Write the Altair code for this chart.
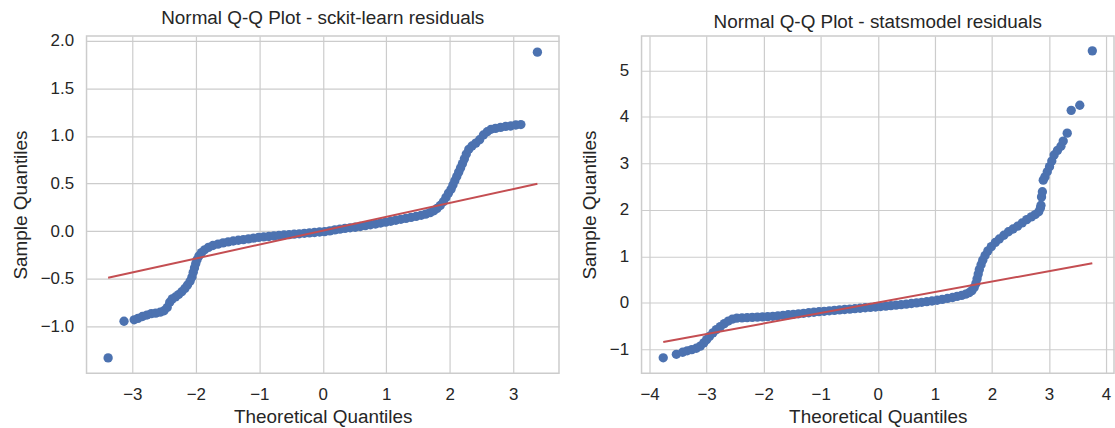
import altair as alt
import pandas as pd

BLUE = "#4C72B0"
RED = "#C44E52"
INK = "#262626"
GRID = "#cccccc"
FONT = "Liberation Sans"

# --- scikit-learn residuals: theoretical vs sample quantiles ---
sk_theoretical = [
    -3.38, -3.13, -2.97, -2.91, -2.84, -2.77, -2.70, -2.63, -2.56, -2.50,
    -2.45, -2.41, -2.37, -2.32, -2.27, -2.22, -2.17, -2.13, -2.09, -2.06,
    -2.04, -2.02, -2.00, -1.98, -1.95, -1.91, -1.86, -1.80, -1.73, -1.65,
    -1.57, -1.49, -1.41, -1.33, -1.25, -1.17, -1.09, -1.01, -0.93, -0.85,
    -0.77, -0.69, -0.61, -0.53, -0.45, -0.37, -0.29, -0.21, -0.13, -0.05,
    0.03, 0.11, 0.19, 0.27, 0.35, 0.43, 0.51, 0.59, 0.67, 0.75,
    0.83, 0.91, 0.99, 1.07, 1.15, 1.23, 1.31, 1.39, 1.47, 1.55,
    1.62, 1.69, 1.75, 1.80, 1.85, 1.90, 1.94, 1.98, 2.02, 2.05,
    2.08, 2.11, 2.14, 2.17, 2.20, 2.23, 2.26, 2.30, 2.35, 2.41,
    2.47, 2.53, 2.59, 2.65, 2.72, 2.80, 2.88, 2.96, 3.04, 3.12,
    3.38,
]
sk_sample = [
    -1.33, -0.945, -0.93, -0.915, -0.895, -0.88, -0.865, -0.86, -0.85, -0.835,
    -0.80, -0.745, -0.71, -0.69, -0.665, -0.635, -0.60, -0.565, -0.525, -0.48,
    -0.43, -0.385, -0.34, -0.30, -0.26, -0.225, -0.195, -0.17, -0.15, -0.135,
    -0.122, -0.112, -0.103, -0.095, -0.088, -0.080, -0.072, -0.065, -0.060, -0.055,
    -0.050, -0.045, -0.040, -0.036, -0.031, -0.027, -0.022, -0.018, -0.013, -0.008,
    -0.004, 0.004, 0.014, 0.022, 0.030, 0.036, 0.042, 0.050, 0.058, 0.068,
    0.076, 0.086, 0.096, 0.105, 0.115, 0.125, 0.135, 0.145, 0.155, 0.167,
    0.180, 0.195, 0.215, 0.24, 0.27, 0.31, 0.355, 0.40, 0.44, 0.485,
    0.53, 0.575, 0.62, 0.665, 0.71, 0.76, 0.81, 0.86, 0.895, 0.925,
    0.96, 1.01, 1.045, 1.07, 1.08, 1.09, 1.10, 1.105, 1.115, 1.12,
    1.88,
]
sk_fit_x = [-3.38, 3.38]
sk_fit_y = [-0.488, 0.498]

# --- statsmodels residuals: theoretical vs sample quantiles ---
sm_theoretical = [
    -3.76, -3.53, -3.42, -3.34, -3.26, -3.18, -3.11, -3.05, -3.00, -2.95,
    -2.89, -2.83, -2.76, -2.69, -2.62, -2.55, -2.47, -2.38, -2.29, -2.20,
    -2.11, -2.02, -1.93, -1.84, -1.75, -1.66, -1.57, -1.48, -1.39, -1.30,
    -1.21, -1.12, -1.03, -0.94, -0.85, -0.76, -0.67, -0.58, -0.49, -0.40,
    -0.31, -0.22, -0.13, -0.04, 0.05, 0.14, 0.23, 0.32, 0.41, 0.50,
    0.59, 0.68, 0.77, 0.86, 0.95, 1.04, 1.13, 1.22, 1.31, 1.39,
    1.47, 1.54, 1.60, 1.65, 1.69, 1.72, 1.74, 1.76, 1.78, 1.81,
    1.84, 1.88, 1.93, 1.99, 2.06, 2.13, 2.21, 2.29, 2.37, 2.45,
    2.53, 2.61, 2.69, 2.76, 2.82, 2.85, 2.86, 2.87, 2.885, 2.90,
    2.93, 2.97, 3.01, 3.05, 3.09, 3.15, 3.21, 3.25, 3.32, 3.39,
    3.54, 3.76,
]
sm_sample = [
    -1.18, -1.105, -1.06, -1.03, -1.005, -0.975, -0.93, -0.86, -0.79, -0.72,
    -0.645, -0.575, -0.51, -0.445, -0.39, -0.35, -0.328, -0.322, -0.316, -0.311,
    -0.306, -0.30, -0.294, -0.288, -0.277, -0.266, -0.255, -0.245, -0.234, -0.223,
    -0.211, -0.20, -0.189, -0.18, -0.17, -0.16, -0.151, -0.142, -0.133, -0.124,
    -0.114, -0.104, -0.095, -0.087, -0.078, -0.068, -0.058, -0.048, -0.036, -0.025,
    -0.012, 0.0, 0.013, 0.027, 0.042, 0.058, 0.076, 0.096, 0.117, 0.14,
    0.163, 0.188, 0.22, 0.265, 0.33, 0.42, 0.52, 0.62, 0.72, 0.82,
    0.92, 1.02, 1.12, 1.21, 1.30, 1.375, 1.455, 1.53, 1.59, 1.65,
    1.72, 1.79, 1.85, 1.90, 1.96, 2.04, 2.10, 2.28, 2.39, 2.64,
    2.71, 2.82, 2.93, 3.05, 3.18, 3.28, 3.37, 3.48, 3.65, 4.14,
    4.25, 5.42,
]
sm_fit_x = [-3.76, 3.76]
sm_fit_y = [-0.84, 0.855]


def qq_panel(theo, samp, fit_x, fit_y, title, x_domain, y_domain,
             x_ticks, y_ticks, y_format):
    points = pd.DataFrame({"theoretical": theo, "sample": samp})
    fit = pd.DataFrame({"theoretical": fit_x, "sample": fit_y})
    x_scale = alt.Scale(domain=x_domain, nice=False, zero=False)
    y_scale = alt.Scale(domain=y_domain, nice=False, zero=False)
    x_enc = alt.X("theoretical:Q", scale=x_scale,
                  axis=alt.Axis(title="Theoretical Quantiles",
                                values=x_ticks, format="d"))
    y_enc = alt.Y("sample:Q", scale=y_scale,
                  axis=alt.Axis(title="Sample Quantiles",
                                values=y_ticks, format=y_format))
    dots = alt.Chart(points).mark_circle(
        size=88, color=BLUE, opacity=1
    ).encode(x=x_enc, y=y_enc)
    ref = alt.Chart(fit).mark_line(
        color=RED, strokeWidth=2
    ).encode(x=alt.X("theoretical:Q", scale=x_scale),
             y=alt.Y("sample:Q", scale=y_scale))
    return alt.layer(dots, ref).properties(
        width=475, height=339,
        title=alt.TitleParams(title, frame="group", anchor="middle",
                              offset=4),
    )


left = qq_panel(sk_theoretical, sk_sample, sk_fit_x, sk_fit_y,
                "Normal Q-Q Plot - sckit-learn residuals",
                [-3.72, 3.72], [-1.49, 2.05],
                [-3, -2, -1, 0, 1, 2, 3],
                [-1.0, -0.5, 0.0, 0.5, 1.0, 1.5, 2.0], ".1f")
right = qq_panel(sm_theoretical, sm_sample, sm_fit_x, sm_fit_y,
                 "Normal Q-Q Plot - statsmodel residuals",
                 [-4.14, 4.14], [-1.51, 5.74],
                 [-4, -3, -2, -1, 0, 1, 2, 3, 4],
                 [-1, 0, 1, 2, 3, 4, 5], "d")

chart = alt.hconcat(left, right, spacing=19).properties(
    padding={"left": 10, "top": 7, "right": 0, "bottom": 0},
    background="white",
).configure_view(
    stroke=GRID, strokeWidth=1.5
).configure_axis(
    grid=True, gridColor=GRID, gridWidth=1.2, domain=False, ticks=False,
    tickSize=0, labelFont=FONT, labelFontSize=17, labelColor=INK,
    titleFont=FONT, titleFontSize=19, titleColor=INK,
    titleFontWeight="normal", labelOverlap=False, labelFlush=False,
).configure_axisX(
    labelPadding=14, titlePadding=5
).configure_axisY(
    labelPadding=13, titlePadding=10
).configure_title(
    font=FONT, fontSize=19, fontWeight="normal", color=INK
)

chart.save("out.html", embed_options={"renderer": "svg", "actions": False})
